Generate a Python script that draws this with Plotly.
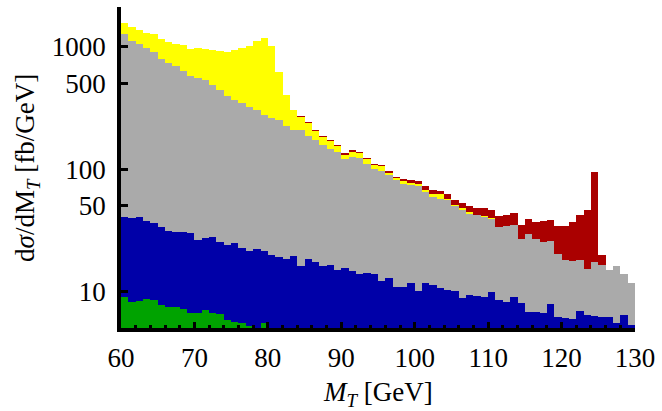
import plotly.graph_objects as go
import numpy as np

# bin lower edges (1 GeV bins, 60-130 GeV)
bin_lo = list(range(60, 130))

# cumulative (stacked) tops of each contribution, fb/GeV
total_top = [1560,1450,1351,1294,1260,1147,1092,1052,1038,958,
             969,963,945,922,910,945,969,1000,1105,1178,
             1013,625,403,306,270,240,209,187,173,156,
             135,142,139,123,110,108,97.2,86.9,83.2,81.0,
             80.1,72.9,68.0,66.8,63.1,56.4,53.3,50.4,48.5,47.9,
             46.5,41.7,42.3,44.2,35.2,39.4,37.1,37.5,38.7,34.6,
             34.1,37.1,42.0,46.7,94.2,19.8,15.1,16.2,13.9,11.8]

gray_top = [1270,1119,1052,969,905,798,736,687,637,577,
            551,528,487,440,396,365,345,320,306,275,
            263,250,225,207,210,185,172,156,145,137,
            120,126,123,111,99.6,96.0,89.0,81.0,75.1,74.7,
            72.4,65.2,59.3,57.4,56.1,49.7,46.5,43.3,42.3,40.7,
            39.2,33.7,34.1,35.2,26.9,29.4,26.9,25.3,26.1,20.2,
            18.0,17.9,18.0,15.2,17.3,16.4,15.1,16.2,13.9,11.8]

yellow_top = ([1560,1450,1351,1294,1260,1147,1092,1052,1038,958,
               969,963,945,922,910,945,969,1000,1105,1178,
               1013,625,403,
               304,267,237,206,184,170,154,
               131,138,136,120,107,105,93.1,84.1,79.5,77.6,
               76.1,68.0,63.1,62.3,57.4,51.3,47.9,45.0,42.5,41.7,
               39.7]
              + gray_top[51:])

blue_top = [40.7,39.7,40.7,38.0,36.6,33.9,31.5,30.7,30.9,29.9,
            26.6,27.2,28.0,25.6,24.2,24.8,22.6,21.3,22.4,21.3,
            19.9,19.3,18.6,19.7,16.1,18.6,17.5,16.1,16.4,14.9,
            15.6,14.6,13.8,14.2,13.9,12.1,12.9,11.0,11.0,11.8,
            10.1,11.8,11.4,10.8,10.3,10.1,8.9,9.45,9.2,8.98,
            9.9,8.5,8.24,9.05,8.13,6.87,6.87,6.65,7.98,6.25,
            6.05,5.94,7.0,6.41,6.29,6.17,6.17,5.51,6.49,5.38]

green_top = ([9.05,8.29,8.40,8.72,8.49,7.83,7.54,7.54,7.22,6.65,
              6.65,7.09,6.74,6.53,5.91,5.66,5.58,5.2,None,5.5]
             + [None] * 50)

x_ticks = [60, 70, 80, 90, 100, 110, 120, 130]
y_ticks = [10, 50, 100, 500, 1000]

centers = [b + 0.5 for b in bin_lo]

layers = [
    (total_top, "#AA0000"),
    (yellow_top, "#FFFF00"),
    (gray_top, "#AAAAAA"),
    (blue_top, "#0000A8"),
    (green_top, "#00A300"),
]

fig = go.Figure()
for vals, col in layers:
    fig.add_trace(go.Bar(x=centers, y=vals, width=1.0,
                         marker=dict(color=col, line=dict(width=0)),
                         showlegend=False, hoverinfo="skip"))

FONT = "Liberation Serif"
fig.update_layout(
    width=662, height=411,
    margin=dict(l=121, r=25, t=7, b=83),
    barmode="overlay", bargap=0,
    plot_bgcolor="white", paper_bgcolor="white",
    font=dict(family=FONT, size=27, color="black"),
)
fig.update_xaxes(range=[60, 130], showline=True, linewidth=3.5, linecolor="black",
                 showgrid=False, zeroline=False, ticks="inside", ticklen=6, tickwidth=3,
                 tickcolor="black", tickvals=x_ticks, ticktext=[str(v) for v in x_ticks],
                 ticklabelstandoff=3,
                 minor=dict(dtick=2, tick0=60, ticks="inside", ticklen=3, tickwidth=2.5,
                            tickcolor="black", showgrid=False))
fig.update_yaxes(type="log", range=[np.log10(5.05), np.log10(2100)], showline=True,
                 linewidth=3.5, linecolor="black", showgrid=False, zeroline=False,
                 ticks="inside", ticklen=7, tickwidth=3, tickcolor="black",
                 tickvals=y_ticks, ticktext=[str(v) for v in y_ticks],
                 ticklabelstandoff=6)

fig.add_annotation(text="<i>M</i><sub><i>T</i></sub> [GeV]", xref="paper", yref="paper",
                   x=0.5, y=-0.205, xanchor="center", yanchor="middle",
                   showarrow=False, font=dict(family=FONT, size=27))
fig.add_annotation(text="d<i>σ</i>/dM<sub><i>T</i></sub> [fb/GeV]", xref="paper", yref="paper",
                   x=-0.184, y=0.5, xanchor="center", yanchor="middle", textangle=-90,
                   showarrow=False, font=dict(family=FONT, size=27))

fig.write_html("out.html", config={"displayModeBar": False},
               post_script="document.body.style.margin='0';document.body.style.overflow='hidden';")
